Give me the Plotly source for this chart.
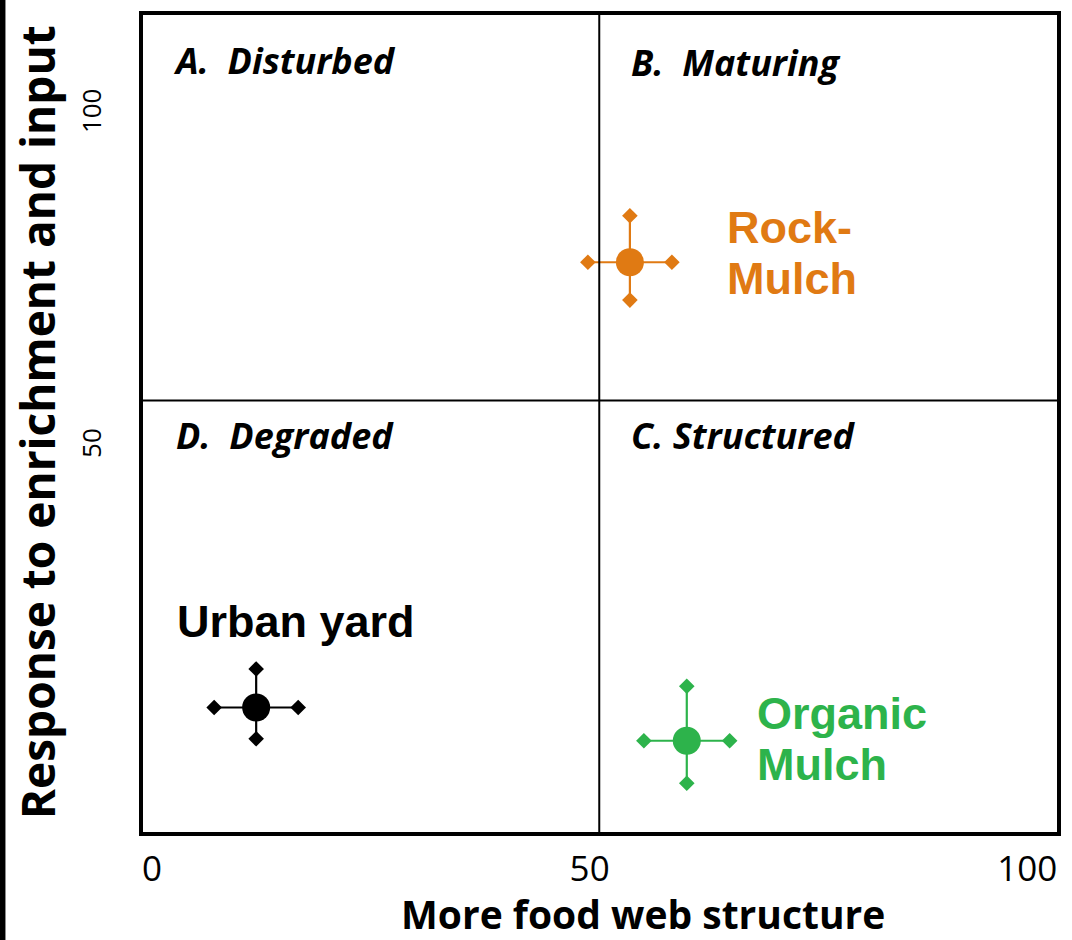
import plotly.graph_objects as go

# ---------------- data ----------------
names = ["Urban yard", "Rock-Mulch", "Organic Mulch"]
label_lines = [["Urban yard"], ["Rock-", "Mulch"], ["Organic", "Mulch"]]
x_vals = [11.9, 54.6, 61.1]
x_err = [4.8, 4.8, 4.9]
y_vals = [10.8, 77.8, 5.8]
y_err_plus = [5.8, 7.0, 8.2]
y_err_minus = [4.7, 5.7, 6.4]
colors = ["#000000", "#E07A13", "#2DB34B"]

x_split = 51.1
y_split = 57.0

quadrant_names = ["A.\u00a0\u00a0Disturbed", "B.\u00a0\u00a0Maturing",
                  "D.\u00a0\u00a0Degraded", "C.\u00a0Structured"]

x_ticks = [0, 50, 100]
x_tick_text = ["0", "50", "100"]
y_ticks = [50, 100]
y_tick_text = ["50", "100"]

x_title = "More food web structure"
y_title = "Response to enrichment and input"

# ---------------- figure ----------------
W, H = 1072, 940
L, R, T, B = 143, 12, 11, 108
PW, PH = W - L - R, H - T - B

fig = go.Figure()

for i, n in enumerate(names):
    fig.add_trace(go.Scatter(
        x=[x_vals[i]], y=[y_vals[i]], mode="markers", name=n,
        marker=dict(size=28, color=colors[i], line=dict(width=0)),
        error_x=dict(type="data", array=[x_err[i]], color=colors[i],
                     thickness=2.2, width=0),
        error_y=dict(type="data", array=[y_err_plus[i]],
                     arrayminus=[y_err_minus[i]], color=colors[i],
                     thickness=2.2, width=0),
        showlegend=False,
    ))
    # diamond end caps
    ex = [x_vals[i] - x_err[i], x_vals[i] + x_err[i], x_vals[i], x_vals[i]]
    ey = [y_vals[i], y_vals[i], y_vals[i] + y_err_plus[i], y_vals[i] - y_err_minus[i]]
    fig.add_trace(go.Scatter(
        x=ex, y=ey, mode="markers",
        marker=dict(symbol="diamond", size=12, color=colors[i]),
        showlegend=False, hoverinfo="skip",
    ))

# quadrant dividers
fig.add_shape(type="line", xref="x", yref="paper", x0=x_split, x1=x_split,
              y0=0, y1=1, line=dict(color="black", width=2))
fig.add_shape(type="line", xref="paper", yref="y", x0=0, x1=1,
              y0=y_split, y1=y_split, line=dict(color="black", width=2))

# left black strip of the image
fig.add_shape(type="rect", xref="paper", yref="paper",
              x0=-L / PW - 0.01, x1=(5 - L) / PW,
              y0=-B / PH - 0.02, y1=1 + T / PH + 0.02,
              fillcolor="black", line=dict(width=0), layer="above")

calibri = "'Open Sans', Lato, sans-serif"
arial = "'Liberation Sans', Arial, sans-serif"

# quadrant labels (paper positions)
q_pos = [(171, 57), (631, 59), (174, 434), (631, 434)]
for (px, py), txt in zip(q_pos, quadrant_names):
    fig.add_annotation(
        x=(px - L) / PW, y=1 - (py - T) / PH,
        xref="paper", yref="paper", text=txt, showarrow=False,
        xanchor="left", yanchor="middle",
        font=dict(family=calibri, size=36, color="black", weight="bold", style="italic"),
    )

# point labels (offsets in pixels from the point)
offsets = [
    [(-81, 86)],
    [(95, 35), (95, -16)],
    [(68, 27), (68, -24)],
]
for i, lines in enumerate(label_lines):
    for line, (dx, dy) in zip(lines, offsets[i]):
        fig.add_annotation(
            x=x_vals[i], y=y_vals[i], xref="x", yref="y", text=line,
            showarrow=False, xanchor="left", yanchor="middle",
            xshift=dx, yshift=dy,
            font=dict(family=arial, size=45, color=colors[i], weight="bold"),
        )

# axis titles
fig.add_annotation(x=(645 - L) / PW, y=-(914 - (H - B)) / PH,
                   xref="paper", yref="paper", text=x_title, showarrow=False,
                   xanchor="center", yanchor="middle",
                   font=dict(family=calibri, size=39, color="black", weight="bold"))
fig.add_annotation(x=(37 - L) / PW, y=1 - (420 - T) / PH,
                   xref="paper", yref="paper", text=y_title, showarrow=False,
                   textangle=-90, xanchor="center", yanchor="middle",
                   font=dict(family=calibri, size=46, color="black", weight="bold"))

fig.update_layout(
    width=W, height=H,
    margin=dict(l=L, r=R, t=T, b=B, pad=0),
    paper_bgcolor="white", plot_bgcolor="white",
    showlegend=False,
)
fig.update_xaxes(
    range=[-1.03, 103.4], tickvals=x_ticks, ticktext=x_tick_text,
    showgrid=False, zeroline=False, showline=True, mirror=True,
    linecolor="black", linewidth=4, ticks="", ticklabelstandoff=3,
    tickfont=dict(family=calibri, size=35, color="black"),
)
fig.update_yaxes(
    range=[-7.93, 115.0], tickvals=y_ticks, ticktext=y_tick_text,
    showgrid=False, zeroline=False, showline=True, mirror=True,
    linecolor="black", linewidth=4, ticks="", tickangle=-90,
    ticklabelstandoff=28,
    tickfont=dict(family=calibri, size=26, color="black"),
)

fig.write_html("out.html", config={"displayModeBar": False},
               post_script="document.body.style.margin='0';document.body.style.overflow='hidden';")
